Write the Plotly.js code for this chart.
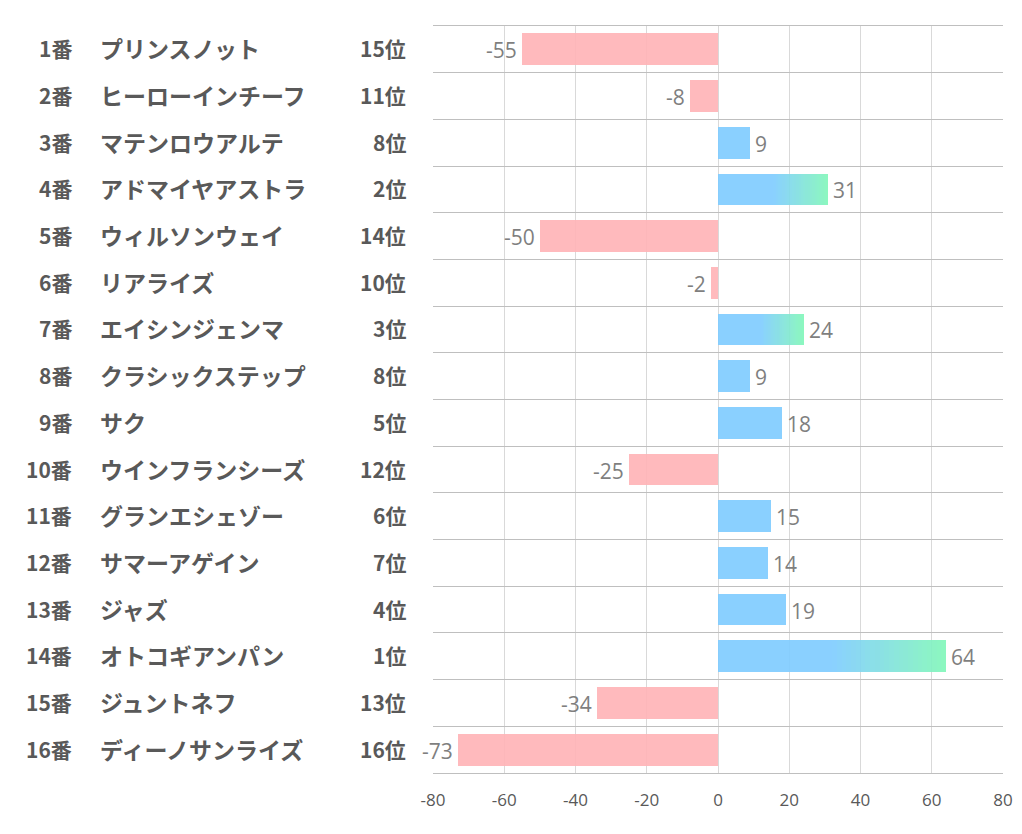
<!DOCTYPE html>
<html><head><meta charset="utf-8">
<script src="https://cdn.plot.ly/plotly-3.0.1.min.js"></script>
<style>body{margin:0;background:#fff}#c{width:1022px;height:834px}</style>
</head><body><div id="c"></div>
<script>
const numbers = ["1番","2番","3番","4番","5番","6番","7番","8番","9番","10番","11番","12番","13番","14番","15番","16番"];
const names = ["プリンスノット","ヒーローインチーフ","マテンロウアルテ","アドマイヤアストラ","ウィルソンウェイ","リアライズ","エイシンジェンマ","クラシックステップ","サク","ウインフランシーズ","グランエシェゾー","サマーアゲイン","ジャズ","オトコギアンパン","ジュントネフ","ディーノサンライズ"];
const ranks = ["15位","11位","8位","2位","14位","10位","3位","8位","5位","12位","6位","7位","4位","1位","13位","16位"];
const rankNums = [15,11,8,2,14,10,3,8,5,12,6,7,4,1,13,16];
const values = [-55,-8,9,31,-50,-2,24,9,18,-25,15,14,19,64,-34,-73];
const xTicks = [-80,-60,-40,-20,0,20,40,60,80];

const ys = values.map((v,i)=>i);
const PINK = "#FFB2B6", BLUE = [125,203,255], GREEN = [128,247,184];
const OP = 0.9, W = 0.68, N = 24;
const isTop = rankNums.map(r=>r<=3);
const traces = [];
traces.push({type:'bar',orientation:'h',y:ys,x:values.map(v=>v<0?v:null),width:W,
  marker:{color:PINK,opacity:OP,line:{width:0}},hoverinfo:'skip'});
traces.push({type:'bar',orientation:'h',y:ys,x:values.map((v,i)=>v>0?(isTop[i]?v*0.5:v):null),width:W,
  marker:{color:`rgb(${BLUE.join(',')})`,opacity:OP,line:{width:0}},hoverinfo:'skip'});
for(let k=0;k<N;k++){
  const t=(k+0.5)/N;
  const c=BLUE.map((b,j)=>Math.round(b+(GREEN[j]-b)*t));
  traces.push({type:'bar',orientation:'h',y:ys,x:values.map((v,i)=>(v>0&&isTop[i])?v*0.5/N:null),width:W,
    marker:{color:`rgb(${c.join(',')})`,opacity:OP,line:{width:0}},hoverinfo:'skip'});
}
const F = "Noto Sans CJK JP, sans-serif";
const ann = [];
values.forEach((v,i)=>{
  ann.push({xref:'paper',yref:'y',x:-0.63,y:i,yshift:1,text:'<b>'+numbers[i]+'</b>',showarrow:false,xanchor:'right',font:{family:F,size:21,color:'#595959'}});
  ann.push({xref:'paper',yref:'y',x:-0.588,y:i,yshift:1,text:'<b>'+names[i]+'</b>',showarrow:false,xanchor:'left',font:{family:F,size:23,color:'#595959'}});
  ann.push({xref:'paper',yref:'y',x:-0.043,y:i,yshift:1,text:'<b>'+ranks[i]+'</b>',showarrow:false,xanchor:'right',font:{family:F,size:21,color:'#595959'}});
  ann.push({xref:'x',yref:'y',x:v,y:i,text:String(v),showarrow:false,xanchor:v<0?'right':'left',xshift:v<0?-3:3,yshift:-1,
    font:{family:'Open Sans, sans-serif',size:21,color:'#7F7F7F'}});
});
const rowLines = values.map((v,i)=>i-0.5).concat([values.length-0.5]);
const layout = {
  width:1022,height:834,margin:{l:433,r:19,t:26,b:61},
  paper_bgcolor:'#fff',plot_bgcolor:'#fff',showlegend:false,
  barmode:'relative',bargap:0,
  xaxis:{range:[-80,80],tickvals:xTicks,ticktext:xTicks.map(String),showgrid:true,gridcolor:'#D9D9D9',gridwidth:1,
    zeroline:false,showline:true,mirror:true,linecolor:'#BFBFBF',linewidth:1,ticks:'',tickfont:{family:'Open Sans, sans-serif',size:17,color:'#595959'},ticklabelstandoff:12},
  yaxis:{range:[values.length-0.5,-0.5],tickvals:rowLines,showticklabels:false,showgrid:true,gridcolor:'#BFBFBF',gridwidth:1,
    zeroline:false,showline:false,ticks:''},
  annotations:ann
};
Plotly.newPlot('c',traces,layout,{staticPlot:true});
</script></body></html>
